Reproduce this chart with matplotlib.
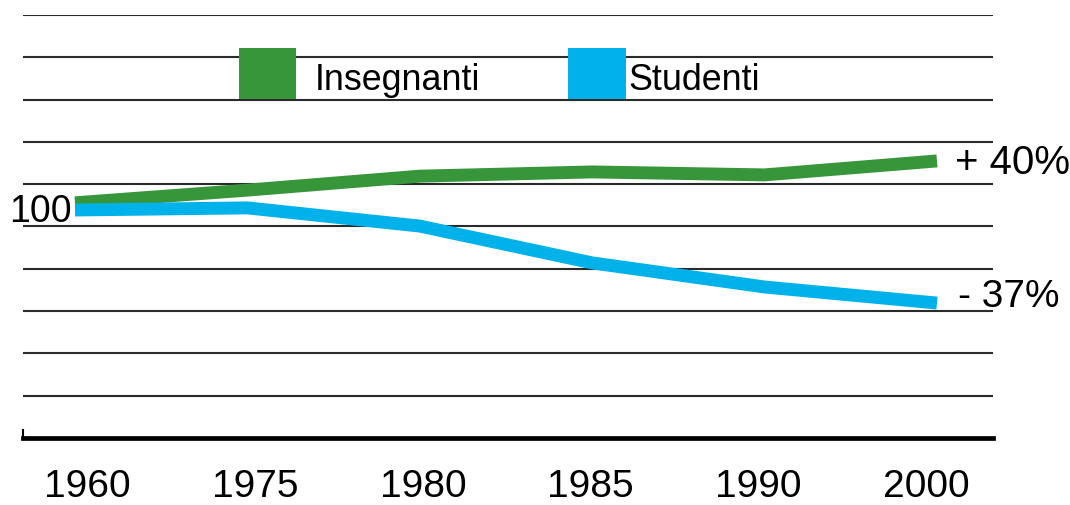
import matplotlib
matplotlib.use("Agg")
import matplotlib.pyplot as plt
from matplotlib.patches import Rectangle

plt.rcParams['font.family'] = ['Liberation Sans', 'DejaVu Sans']

# Data (on the chart's own vertical scale: gridlines every 10)
years = ["1960", "1975", "1980", "1985", "1990", "2000"]
insegnanti = [55.6, 58.6, 61.9, 62.9, 62.2, 65.5]
studenti = [53.9, 54.4, 50.1, 41.4, 35.7, 31.9]
series_names = ["Insegnanti", "Studenti"]
end_labels = ["+ 40%", "- 37%"]
start_label = "100"
grid_levels = [10, 20, 30, 40, 50, 60, 70, 80, 90, 100]

GREEN = "#37963a"
BLUE = "#00b2e9"

W, H = 1070, 505
fig = plt.figure(figsize=(W / 100, H / 100), dpi=100)
ax = fig.add_axes([23 / W, 1 - 438 / H, (993 - 23) / W, (438 - 15) / H])

x = list(range(len(years)))
ax.set_xlim(-0.3016, len(years) - 1 + 0.325)
ax.set_ylim(0, 100)

for g in grid_levels:
    ax.axhline(g, color="#2a2a2a", lw=1.5, zorder=1)

ax.plot(x, insegnanti, color=GREEN, lw=9.3, solid_capstyle="butt", solid_joinstyle="round", zorder=3)
ax.plot(x, studenti, color=BLUE, lw=9.3, solid_capstyle="butt", solid_joinstyle="round", zorder=4)

for s in ["top", "right"]:
    ax.spines[s].set_visible(False)
ax.spines["bottom"].set_linewidth(3.4)
ax.spines["bottom"].set_color("black")
ax.spines["left"].set_bounds(0, 1.8)
ax.spines["left"].set_linewidth(1.5)
ax.set_yticks([])
# tick labels sit on a slightly narrower spacing than the line's points
ax.set_xticks([0.0725 + 0.9727 * i for i in x])
ax.set_xticklabels(years, fontsize=28)
ax.tick_params(axis="x", length=0, pad=22)

ax.annotate(start_label, xy=(x[0], studenti[0]), xytext=(-3, -2), textcoords="offset pixels",
            ha="right", va="center", fontsize=27)
ax.annotate(end_labels[0], xy=(x[-1], insegnanti[-1]), xytext=(18, -2), textcoords="offset pixels",
            ha="left", va="center", fontsize=29)
ax.annotate(end_labels[1], xy=(x[-1], studenti[-1]), xytext=(21, 6), textcoords="offset pixels",
            ha="left", va="center", fontsize=28)

# Legend drawn manually (square swatches and labels)
legend_boxes = [(239, 296), (568, 626)]
legend_text_x = [315, 628]
for (x0, x1), tx, name, col in zip(legend_boxes, legend_text_x, series_names, [GREEN, BLUE]):
    fig.patches.append(Rectangle((x0 / W, 1 - 99 / H), (x1 - x0) / W, 51 / H,
                                 transform=fig.transFigure, facecolor=col, edgecolor="none", zorder=5))
    fig.text(tx / W, 1 - 90 / H, name, fontsize=25.8, ha="left", va="baseline", zorder=6)

fig.savefig("out.png", dpi=100, facecolor="white")
